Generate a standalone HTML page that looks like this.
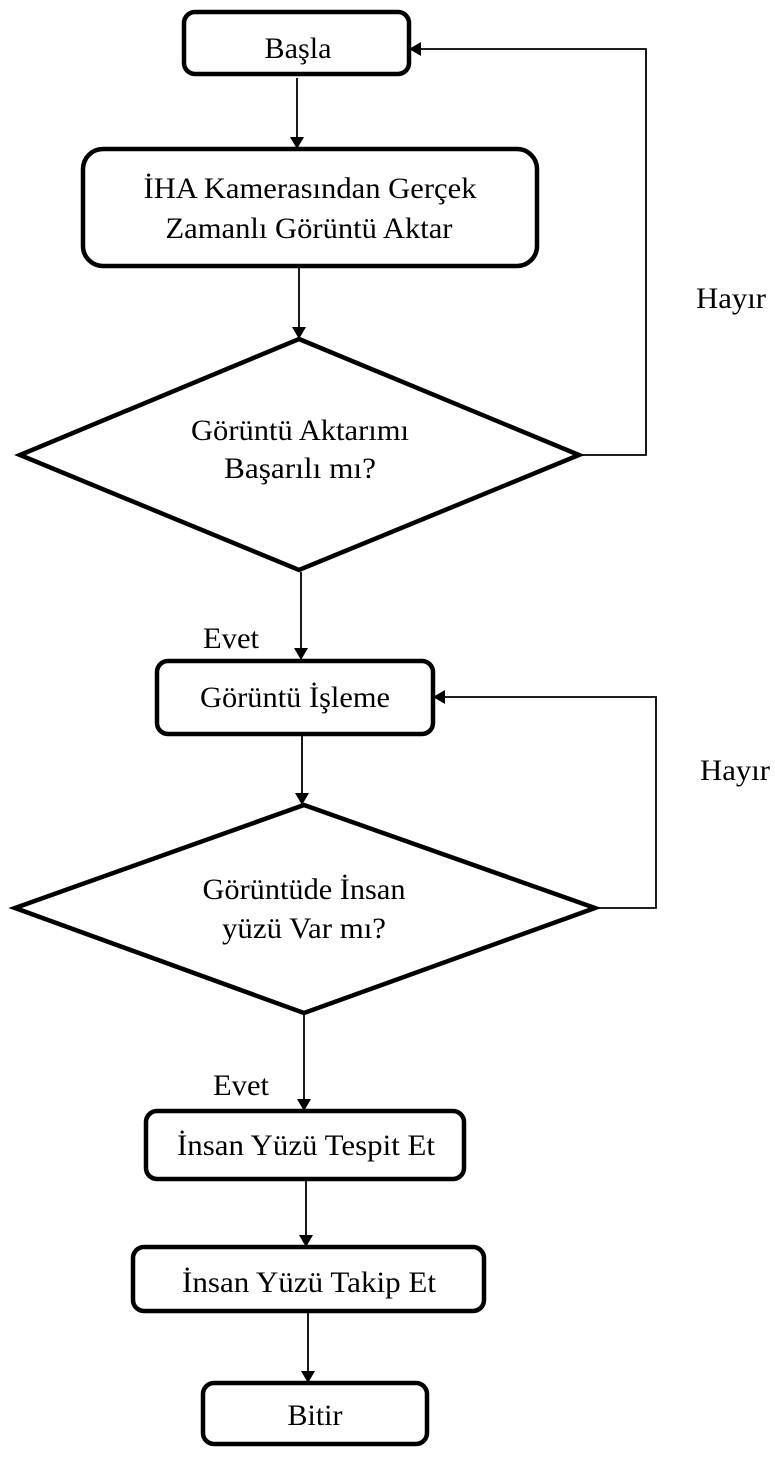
<!DOCTYPE html>
<html><head><meta charset="utf-8"><style>
html,body{margin:0;padding:0;background:#fff;}
svg{display:block;}
text{font-family:"Liberation Serif",serif;font-size:30px;fill:#000;}
</style></head><body>
<svg width="775" height="1461" viewBox="0 0 775 1461" xmlns="http://www.w3.org/2000/svg">
<defs>
<marker id="a" markerWidth="12" markerHeight="14" refX="11" refY="7" orient="auto" markerUnits="userSpaceOnUse">
<path d="M0,0 L12,7 L0,14 Z" fill="#000"/>
</marker>
</defs>
<g fill="none" stroke="#000" stroke-width="4.5" stroke-linejoin="miter">
<rect x="184" y="12" width="225" height="62" rx="11"/>
<rect x="83" y="149" width="454" height="117" rx="20"/>
<polygon points="299,339 579,455 299,570 20,455"/>
<rect x="157" y="661" width="276" height="73" rx="11"/>
<polygon points="304,805 595,908 304,1013 15,908"/>
<rect x="146" y="1111" width="318" height="68" rx="11"/>
<rect x="133" y="1247" width="351" height="64" rx="11"/>
<rect x="203" y="1383" width="224" height="61" rx="11"/>
</g>
<g fill="none" stroke="#000" stroke-width="1.8" marker-end="url(#a)">
<line x1="297" y1="78" x2="297" y2="148"/>
<line x1="299" y1="267" x2="299" y2="338"/>
<polyline points="579,455 646,455 646,49 410,49"/>
<line x1="301" y1="572" x2="301" y2="659"/>
<line x1="302" y1="735" x2="302" y2="804"/>
<polyline points="595,908 656,908 656,697 434,697"/>
<line x1="304" y1="1014" x2="304" y2="1110"/>
<line x1="306" y1="1181" x2="306" y2="1246"/>
<line x1="308" y1="1313" x2="308" y2="1382"/>
</g>
<g text-anchor="middle">
<text x="298" y="58" textLength="67" lengthAdjust="spacingAndGlyphs">Başla</text>
<text x="310" y="198" textLength="333" lengthAdjust="spacingAndGlyphs">İHA Kamerasından Gerçek</text>
<text x="309" y="238" textLength="287" lengthAdjust="spacingAndGlyphs">Zamanlı Görüntü Aktar</text>
<text x="300" y="440" textLength="218" lengthAdjust="spacingAndGlyphs">Görüntü Aktarımı</text>
<text x="300" y="478" textLength="152" lengthAdjust="spacingAndGlyphs">Başarılı mı?</text>
<text x="295" y="707" textLength="190" lengthAdjust="spacingAndGlyphs">Görüntü İşleme</text>
<text x="304" y="899" textLength="203" lengthAdjust="spacingAndGlyphs">Görüntüde İnsan</text>
<text x="304" y="938" textLength="164" lengthAdjust="spacingAndGlyphs">yüzü Var mı?</text>
<text x="306" y="1155" textLength="258" lengthAdjust="spacingAndGlyphs">İnsan Yüzü Tespit Et</text>
<text x="309" y="1292" textLength="254" lengthAdjust="spacingAndGlyphs">İnsan Yüzü Takip Et</text>
<text x="315" y="1425" textLength="55" lengthAdjust="spacingAndGlyphs">Bitir</text>
</g>
<text x="696" y="308" textLength="70" lengthAdjust="spacingAndGlyphs">Hayır</text>
<text x="700" y="780" textLength="70" lengthAdjust="spacingAndGlyphs">Hayır</text>
<text x="203" y="648" textLength="56" lengthAdjust="spacingAndGlyphs">Evet</text>
<text x="213" y="1095" textLength="56" lengthAdjust="spacingAndGlyphs">Evet</text>
</svg>
</body></html>
